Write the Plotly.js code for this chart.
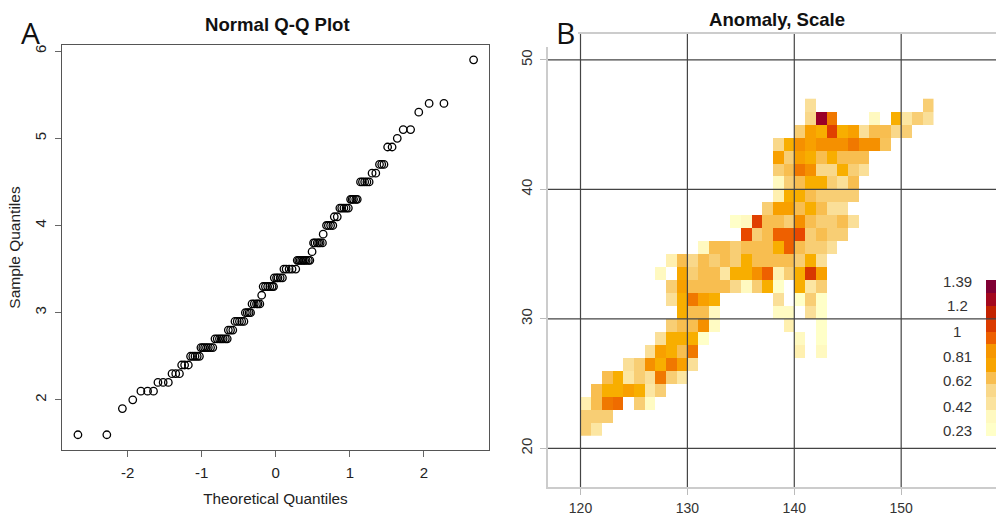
<!DOCTYPE html>
<html>
<head>
<meta charset="utf-8">
<script src="https://cdn.plot.ly/plotly-3.0.1.min.js"></script>
<style>html,body{margin:0;padding:0;background:#fff}</style>
</head>
<body>
<div id="chart" style="width:996px;height:515px"></div>
<script>
// Panel A: normal Q-Q plot
var qqTheoretical = [-2.67,-2.28,-2.07,-1.93,-1.82,-1.73,-1.65,-1.59,-1.52,-1.45,-1.40,-1.35,-1.30,-1.27,-1.23,-1.18,
  -1.15,-1.12,-1.09,-1.06,-1.03,-1.01,-0.985,-0.96,-0.935,-0.91,-0.88,-0.85,-0.82,-0.79,-0.76,-0.735,-0.71,-0.68,-0.655,
  -0.64,-0.61,-0.58,-0.55,-0.52,-0.49,-0.46,-0.43,-0.41,-0.385,-0.36,-0.34,-0.32,-0.29,-0.26,-0.24,-0.215,-0.19,
  -0.17,-0.14,-0.11,-0.08,-0.05,-0.03,-0.02,0.01,0.03,0.06,0.09,0.11,0.14,0.18,0.22,0.27,0.29,0.31,0.33,0.35,0.37,0.39,0.41,0.44,0.46,
  0.49,0.51,0.53,0.56,0.58,0.60,0.63,0.64,0.685,0.71,0.74,0.77,0.79,0.83,0.865,0.89,0.92,0.95,0.98,1.01,1.03,1.05,1.08,1.10,
  1.144,1.17,1.20,1.23,1.26,1.30,1.35,1.40,1.43,1.46,1.51,1.57,1.64,1.72,1.82,1.93,2.07,2.27,2.67];
var qqSample = [1.6,1.6,1.9,2.0,2.1,2.1,2.1,2.2,2.2,2.2,2.3,2.3,2.3,2.4,2.4,2.4,
  2.5,2.5,2.5,2.5,2.5,2.6,2.6,2.6,2.6,2.6,2.6,2.6,2.7,2.7,2.7,2.7,2.7,2.7,2.7,
  2.8,2.8,2.8,2.9,2.9,2.9,2.9,2.9,3.0,3.0,3.0,3.0,3.1,3.1,3.1,3.1,3.1,3.2,
  3.3,3.3,3.3,3.3,3.3,3.3,3.4,3.4,3.4,3.4,3.4,3.5,3.5,3.5,3.5,3.5,3.6,3.6,3.6,3.6,3.6,3.6,3.6,3.6,3.6,
  3.7,3.8,3.8,3.8,3.8,3.8,3.8,3.9,4.0,4.0,4.0,4.0,4.1,4.1,4.2,4.2,4.2,4.2,4.2,4.3,4.3,4.3,4.3,4.3,
  4.5,4.5,4.5,4.5,4.5,4.6,4.6,4.7,4.7,4.7,4.9,4.9,5.0,5.1,5.1,5.3,5.4,5.4,5.9];
var qqXTicks = [-2,-1,0,1,2];
var qqXTickText = ['-2','-1','0','1','2'];
var qqYTicks = [2,3,4,5,6];

// Panel B: anomaly scale per 1-degree cell. Each row: latitude, first longitude, cell values.
var rowLats = [46,45,44,43,42,41,40,39,38,37,36,35,34,33,32,31,30,29,28,27,26,25,24,23,22,21];
var rowStarts = [141,141,140,138,138,138,138,138,137,134,135,131,128,127,128,128,129,128,127,126,124,122,121,120,120,120];
var rowValues = [
  [.45,null,null,null,null,null,null,null,null,null,null,.55],
  [.50,1.35,.95,null,null,null,.3,null,.75,.4,.55,.45],
  [.55,.85,.75,1.15,.75,.85,.45,.62,.62,.5,.55],
  [.5,.75,.9,.85,.9,.9,.9,.95,.9,.9,.6],
  [.85,.55,.85,.75,.62,.75,.62,.62,.62],
  [.55,.62,.95,.9,.5,.5,.75,.55,.45],
  [.3,.55,.62,.75,.75,.55,.45,.62],
  [.35,.75,.75,.62,.55,.55,.55,.55],
  [.55,.85,.85,.62,.75,.62,.45,.45],
  [.25,.3,1.15,.62,.62,.55,.9,.62,.55,.55,.62,.45],
  [1.1,.55,.62,1.05,1.05,1.1,.55,.62,.55,.55],
  [.3,.62,.62,.55,.62,.62,.62,.75,1.05,.62,.55,.55,.45],
  [.35,.62,.5,.62,.55,.62,.55,.75,.62,.62,.62,.62,.55,.75,.45],
  [.3,null,.8,.55,.62,.62,.4,.75,.75,.9,1.05,.35,.55,.75,1.2,.85],
  [.55,.85,.62,.62,.62,.62,.5,.3,.55,.75,.25,null,.75,.4,.55],
  [.45,.75,.95,.85,.75,null,null,null,null,null,.45,null,.25,.55,.25],
  [.75,.62,.62,.3,null,null,null,null,null,.28,.28,null,.45,.25],
  [.55,.62,.62,.9,.28,null,null,null,null,null,null,.35,null,null,.25],
  [.45,.75,.75,.75,.25,null,null,null,null,null,null,null,null,.3,null,.25],
  [.45,.85,.75,.62,.95,null,null,null,null,null,null,null,null,null,.35,null,.3],
  [.45,.55,.9,.75,.95,.85,.45],
  [.62,.75,.4,.55,.45,.95,.55,.4],
  [.62,.75,.75,.85,.75,.4,.55],
  [.35,.62,.95,1.0,null,.55,.28],
  [.55,.55,.55],
  [.55,.4]
];
var gridLons = [120,130,140,150];
var gridLats = [20,30,40,50];

// Colour key
var legendCenters = [.24,.34,.44,.54,.64,.74,.85,.95,1.05,1.15,1.25,1.35];
var legendLevels = [.25,.30,.42,.50,.62,.82,.88,1.05,1.18,1.26,1.33,1.40];
var legendTicks = [1.39,1.2,1,0.81,0.62,0.42,0.23];
var legendTickText = ['1.39','1.2','1','0.81','0.62','0.42','0.23'];

var colorStops = [[.25,'#FFFFC8'],[.30,'#FFF9C0'],[.35,'#FFF0B0'],[.40,'#FCE6A2'],[.45,'#FADF98'],[.50,'#F9D88A'],
  [.55,'#F8CE74'],[.62,'#F8BE50'],[.75,'#F8AE00'],[.85,'#F8A000'],[.90,'#F59000'],[.95,'#F07800'],[1.05,'#EE6000'],
  [1.10,'#E84800'],[1.20,'#D83800'],[1.27,'#C02000'],[1.35,'#9A0028'],[1.40,'#800034']];

var W = 996, H = 515;
var fx = function (p) { return p / W; };
var fy = function (p) { return 1 - p / H; };
var zMin = colorStops[0][0], zMax = colorStops[colorStops.length - 1][0];
var colorscale = colorStops.map(function (s) { return [(s[0] - zMin) / (zMax - zMin), s[1]]; });

// Build the cell grid
var lonCenters = [], latCenters = [], z = [];
for (var lon = 120; lon <= 152; lon++) lonCenters.push(lon + 0.5);
rowLats.forEach(function (lat, i) {
  var row = lonCenters.map(function () { return null; });
  rowValues[i].forEach(function (v, j) { row[rowStarts[i] - 120 + j] = v; });
  latCenters.push(lat + 0.5);
  z.push(row);
});

var font = 'Liberation Sans, Arial, sans-serif';

var traces = [
  {type: 'scatter', mode: 'markers', xaxis: 'x', yaxis: 'y', x: qqTheoretical, y: qqSample,
   marker: {symbol: 'circle-open', size: 7.5, color: '#000', line: {width: 1.3, color: '#000'}}, hoverinfo: 'x+y'},
  {type: 'heatmap', xaxis: 'x2', yaxis: 'y2', x: lonCenters, y: latCenters, z: z, zmin: zMin, zmax: zMax,
   colorscale: colorscale, showscale: false, zsmooth: false},
  {type: 'heatmap', xaxis: 'x3', yaxis: 'y3', x: [0], y: legendCenters, z: legendLevels.map(function (v) { return [v]; }),
   zmin: zMin, zmax: zMax, colorscale: colorscale, showscale: false, zsmooth: false, hoverinfo: 'skip'}
];

var shapes = [];
gridLons.forEach(function (l) {
  shapes.push({type: 'line', layer: 'above', xref: 'x2', yref: 'y2 domain', x0: l, x1: l, y0: 0, y1: 1, line: {color: '#444', width: 1.2}});
});
gridLats.forEach(function (l) {
  shapes.push({type: 'line', layer: 'above', xref: 'x2 domain', yref: 'y2', x0: 0, x1: 1, y0: l, y1: l, line: {color: '#444', width: 1.2}});
});
// corner of panel B is covered by the panel letter's white box
shapes.push({type: 'rect', layer: 'above', xref: 'paper', yref: 'paper', x0: fx(546), x1: fx(578), y0: fy(47), y1: fy(31),
  fillcolor: '#fff', line: {width: 0}});

var annotations = [
  {text: 'A', xref: 'paper', yref: 'paper', x: fx(30), y: fy(32), showarrow: false, xanchor: 'center', yanchor: 'middle',
   font: {family: 'Open Sans, sans-serif', size: 30, color: '#111'}},
  {text: 'B', xref: 'paper', yref: 'paper', x: fx(565), y: fy(32), showarrow: false, xanchor: 'center', yanchor: 'middle',
   font: {family: 'Open Sans, sans-serif', size: 30, color: '#111'}},
  {text: '<b>Normal Q-Q Plot</b>', xref: 'paper', yref: 'paper', x: fx(277), y: fy(24), showarrow: false, xanchor: 'center', yanchor: 'middle',
   font: {family: font, size: 18.6, color: '#111'}},
  {text: '<b>Anomaly, Scale</b>', xref: 'paper', yref: 'paper', x: fx(777), y: fy(19), showarrow: false, xanchor: 'center', yanchor: 'middle',
   font: {family: font, size: 18.6, color: '#111'}}
];
legendTicks.forEach(function (v, i) {
  annotations.push({text: legendTickText[i], xref: 'paper', yref: 'y3', x: fx(957), y: v, showarrow: false,
    xanchor: 'center', yanchor: 'middle', font: {family: font, size: 15, color: '#333'}});
});

var layout = {
  width: W, height: H, autosize: false, showlegend: false,
  margin: {l: 0, r: 0, t: 0, b: 0, pad: 0},
  paper_bgcolor: '#fff', plot_bgcolor: 'rgba(0,0,0,0)',
  font: {family: font, color: '#222', size: 15},
  shapes: shapes, annotations: annotations,
  xaxis: {domain: [fx(62), fx(489)], range: [-2.885, 2.878], anchor: 'y', zeroline: false, showgrid: false,
    tickmode: 'array', tickvals: qqXTicks, ticktext: qqXTickText, ticks: 'outside', ticklen: 6, tickwidth: 1, tickcolor: '#666',
    showline: true, linecolor: '#555', linewidth: 1.4, mirror: true,
    tickfont: {size: 15, color: '#222'}, ticklabelstandoff: 3,
    title: {text: 'Theoretical Quantiles', font: {size: 15.3, color: '#222'}, standoff: 13}, automargin: false},
  yaxis: {domain: [fy(450), fy(45)], range: [1.425, 6.07], anchor: 'x', zeroline: false, showgrid: false,
    tickmode: 'array', tickvals: qqYTicks, ticks: 'outside', ticklen: 6, tickwidth: 1, tickcolor: '#666',
    showline: true, linecolor: '#555', linewidth: 1.4, mirror: true, tickangle: -90,
    tickfont: {size: 15, color: '#222'}, ticklabelstandoff: 3,
    title: {text: 'Sample Quantiles', font: {size: 15.5, color: '#222'}, standoff: 7}, automargin: false},
  xaxis2: {domain: [fx(548), 1], range: [116.96, 158.87], anchor: 'y2', zeroline: false, showgrid: false,
    tickmode: 'array', tickvals: gridLons, ticks: 'outside', ticklen: 6, tickwidth: 1, tickcolor: '#bbb',
    showline: true, linecolor: '#ccc', linewidth: 2, mirror: true,
    tickfont: {size: 14, color: '#333'}, ticklabelstandoff: 1},
  yaxis2: {domain: [fy(487), fy(34)], range: [17.01, 52.0], anchor: 'x2', zeroline: false, showgrid: false,
    tickmode: 'array', tickvals: gridLats, ticks: 'outside', ticklen: 6, tickwidth: 1, tickcolor: '#bbb',
    showline: true, linecolor: '#ccc', linewidth: 2, tickangle: -90,
    tickfont: {size: 15, color: '#333'}, ticklabelstandoff: 2},
  xaxis3: {domain: [fx(986), 1], range: [-0.5, 0.5], anchor: 'y3', visible: false, fixedrange: true},
  yaxis3: {domain: [fy(436), fy(280)], range: [0.19, 1.40], anchor: 'x3', visible: false, fixedrange: true}
};

Plotly.newPlot('chart', traces, layout, {displayModeBar: false, responsive: false});
</script>
</body>
</html>
